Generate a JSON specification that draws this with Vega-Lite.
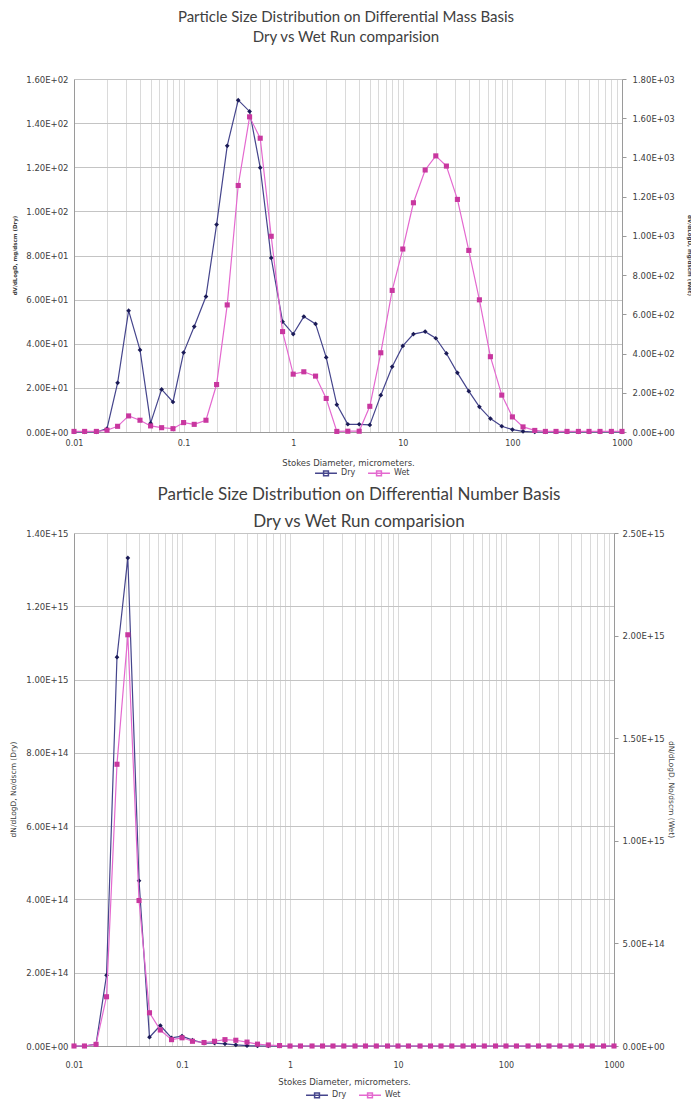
{
  "$schema": "https://vega.github.io/schema/vega-lite/v6.json",
  "background": "white",
  "padding": {"left": 9, "top": 10, "right": 0, "bottom": 0},
  "spacing": 7,
  "config": {
    "font": "Lato",
    "view": {"stroke": null},
    "axis": {
      "labelFont": "DejaVu Sans",
      "labelColor": "#404040",
      "titleColor": "#404040",
      "titleFont": "DejaVu Sans",
      "titleFontWeight": "normal",
      "domainColor": "#9a9a9a",
      "tickColor": "#9a9a9a",
      "gridColor": "#c4c4c4"
    },
    "title": {"color": "#404040", "font": "Lato", "fontWeight": "normal", "frame": "group"},
    "legend": {
      "orient": "none",
      "direction": "horizontal",
      "labelFont": "DejaVu Sans",
      "labelFontSize": 8,
      "labelColor": "#404040",
      "symbolType": "M-1,0H1M-0.22,-0.22H0.22V0.22H-0.22Z",
      "symbolSize": 480,
      "symbolStrokeWidth": 1.5,
      "columnPadding": 9,
      "labelOffset": 3,
      "padding": 0
    }
  },
  "datasets": {
    "mass": [
      {"d": 0.01, "Dry": 0, "Wet": 3},
      {"d": 0.0125, "Dry": 0, "Wet": 3},
      {"d": 0.016, "Dry": 0, "Wet": 3},
      {"d": 0.02, "Dry": 1.5, "Wet": 9},
      {"d": 0.025, "Dry": 22.3, "Wet": 29},
      {"d": 0.0315, "Dry": 55, "Wet": 82},
      {"d": 0.04, "Dry": 37.2, "Wet": 60},
      {"d": 0.05, "Dry": 4, "Wet": 31},
      {"d": 0.063, "Dry": 19.3, "Wet": 22},
      {"d": 0.08, "Dry": 13.6, "Wet": 17},
      {"d": 0.1, "Dry": 36, "Wet": 48},
      {"d": 0.125, "Dry": 47.8, "Wet": 39},
      {"d": 0.16, "Dry": 61.4, "Wet": 60},
      {"d": 0.2, "Dry": 94, "Wet": 242},
      {"d": 0.25, "Dry": 129.7, "Wet": 648},
      {"d": 0.315, "Dry": 150.4, "Wet": 1257},
      {"d": 0.4, "Dry": 145.3, "Wet": 1607},
      {"d": 0.5, "Dry": 119.8, "Wet": 1498},
      {"d": 0.63, "Dry": 78.9, "Wet": 998},
      {"d": 0.8, "Dry": 50, "Wet": 512},
      {"d": 1, "Dry": 44.4, "Wet": 295},
      {"d": 1.25, "Dry": 52.3, "Wet": 307},
      {"d": 1.6, "Dry": 49, "Wet": 285},
      {"d": 2, "Dry": 33.8, "Wet": 171},
      {"d": 2.5, "Dry": 12.4, "Wet": 3},
      {"d": 3.15, "Dry": 3.5, "Wet": 4},
      {"d": 4, "Dry": 3.5, "Wet": 4},
      {"d": 5, "Dry": 3.2, "Wet": 131},
      {"d": 6.3, "Dry": 16.7, "Wet": 404},
      {"d": 8, "Dry": 29.6, "Wet": 722},
      {"d": 10, "Dry": 39, "Wet": 933},
      {"d": 12.5, "Dry": 44.4, "Wet": 1169},
      {"d": 16, "Dry": 45.5, "Wet": 1336},
      {"d": 20, "Dry": 42.5, "Wet": 1408},
      {"d": 25, "Dry": 35.6, "Wet": 1356},
      {"d": 31.5, "Dry": 26.8, "Wet": 1186},
      {"d": 40, "Dry": 18.5, "Wet": 926},
      {"d": 50, "Dry": 11.4, "Wet": 674},
      {"d": 63, "Dry": 6.1, "Wet": 384},
      {"d": 80, "Dry": 2.6, "Wet": 188},
      {"d": 100, "Dry": 1.1, "Wet": 77},
      {"d": 125, "Dry": 0.3, "Wet": 26},
      {"d": 160, "Dry": 0, "Wet": 8},
      {"d": 200, "Dry": 0, "Wet": 3},
      {"d": 250, "Dry": 0, "Wet": 3},
      {"d": 315, "Dry": 0, "Wet": 3},
      {"d": 400, "Dry": 0, "Wet": 3},
      {"d": 500, "Dry": 0, "Wet": 3},
      {"d": 630, "Dry": 0, "Wet": 3},
      {"d": 800, "Dry": 0, "Wet": 3},
      {"d": 1000, "Dry": 0, "Wet": 3}
    ],
    "number": [
      {"d": 0.01, "Dry": 0, "Wet": 0},
      {"d": 0.0125, "Dry": 0, "Wet": 0},
      {"d": 0.016, "Dry": 5e12, "Wet": 8e12},
      {"d": 0.02, "Dry": 1.93e14, "Wet": 2.4e14},
      {"d": 0.025, "Dry": 1.061e15, "Wet": 1.373e15},
      {"d": 0.0315, "Dry": 1.332e15, "Wet": 2.004e15},
      {"d": 0.04, "Dry": 4.51e14, "Wet": 7.09e14},
      {"d": 0.05, "Dry": 2.4e13, "Wet": 1.62e14},
      {"d": 0.063, "Dry": 5.6e13, "Wet": 7.8e13},
      {"d": 0.08, "Dry": 2.2e13, "Wet": 3.1e13},
      {"d": 0.1, "Dry": 2.7e13, "Wet": 4e13},
      {"d": 0.125, "Dry": 1.6e13, "Wet": 2.3e13},
      {"d": 0.16, "Dry": 8e12, "Wet": 1.7e13},
      {"d": 0.2, "Dry": 8e12, "Wet": 2.3e13},
      {"d": 0.25, "Dry": 6e12, "Wet": 3.1e13},
      {"d": 0.315, "Dry": 3e12, "Wet": 2.8e13},
      {"d": 0.4, "Dry": 1e12, "Wet": 1.9e13},
      {"d": 0.5, "Dry": 0, "Wet": 9e12},
      {"d": 0.63, "Dry": 0, "Wet": 5e12},
      {"d": 0.8, "Dry": 0, "Wet": 2e12},
      {"d": 1, "Dry": 0, "Wet": 0},
      {"d": 1.25, "Dry": 0, "Wet": 0},
      {"d": 1.6, "Dry": 0, "Wet": 0},
      {"d": 2, "Dry": 0, "Wet": 0},
      {"d": 2.5, "Dry": 0, "Wet": 0},
      {"d": 3.15, "Dry": 0, "Wet": 0},
      {"d": 4, "Dry": 0, "Wet": 0},
      {"d": 5, "Dry": 0, "Wet": 0},
      {"d": 6.3, "Dry": 0, "Wet": 0},
      {"d": 8, "Dry": 0, "Wet": 0},
      {"d": 10, "Dry": 0, "Wet": 0},
      {"d": 12.5, "Dry": 0, "Wet": 0},
      {"d": 16, "Dry": 0, "Wet": 0},
      {"d": 20, "Dry": 0, "Wet": 0},
      {"d": 25, "Dry": 0, "Wet": 0},
      {"d": 31.5, "Dry": 0, "Wet": 0},
      {"d": 40, "Dry": 0, "Wet": 0},
      {"d": 50, "Dry": 0, "Wet": 0},
      {"d": 63, "Dry": 0, "Wet": 0},
      {"d": 80, "Dry": 0, "Wet": 0},
      {"d": 100, "Dry": 0, "Wet": 0},
      {"d": 125, "Dry": 0, "Wet": 0},
      {"d": 160, "Dry": 0, "Wet": 0},
      {"d": 200, "Dry": 0, "Wet": 0},
      {"d": 250, "Dry": 0, "Wet": 0},
      {"d": 315, "Dry": 0, "Wet": 0},
      {"d": 400, "Dry": 0, "Wet": 0},
      {"d": 500, "Dry": 0, "Wet": 0},
      {"d": 630, "Dry": 0, "Wet": 0},
      {"d": 800, "Dry": 0, "Wet": 0},
      {"d": 1000, "Dry": 0, "Wet": 0}
    ]
  },
  "resolve": {"scale": {"color": "independent"}, "legend": {"color": "independent"}},
  "vconcat": [
    {
      "width": 548,
      "height": 353,
      "title": {
        "text": ["Particle Size Distribution on Differential Mass Basis", "Dry vs Wet Run comparision"],
        "fontSize": 15,
        "lineHeight": 20,
        "offset": 30,
        "dx": -2
      },
      "data": {"name": "mass"},
      "encoding": {
        "x": {
          "field": "d",
          "type": "quantitative",
          "scale": {"type": "log", "domain": [0.01, 1000], "nice": false},
          "axis": {
            "title": "Stokes Diameter, micrometers.",
            "titleFontSize": 8.5,
            "titlePadding": 11,
            "labelFontSize": 8,
            "labelPadding": 7,
            "labelFlush": false,
            "ticks": false,
            "labelOverlap": false,
            "labelBound": false,
            "gridColor": "#dadada",
            "values": [0.01,0.02,0.03,0.04,0.05,0.06,0.07,0.08,0.09,0.1,0.2,0.3,0.4,0.5,0.6,0.7,0.8,0.9,1,2,3,4,5,6,7,8,9,10,20,30,40,50,60,70,80,90,100,200,300,400,500,600,700,800,900,1000],
            "labelExpr": "indexof([0.01,0.1,1,10,100,1000], datum.value) >= 0 ? format(datum.value, '~g') : ''"
          }
        }
      },
      "layer": [
        {
          "encoding": {
            "y": {
              "field": "Dry",
              "type": "quantitative",
              "scale": {"domain": [0, 160], "nice": false},
              "axis": {
                "orient": "left",
                "title": "dV/dLogD, mg/dscm (Dry)",
                "titleFontSize": 5.5,
                "titleFontWeight": "bold",
                "titleX": -57,
                "titleY": 176,
                "labelFontSize": 8.5,
                "labelPadding": 6,
                "ticks": false,
                "values": [0, 20, 40, 60, 80, 100, 120, 140, 160],
                "labelExpr": "replace(replace(format(datum.value,'.2e'),regexp('e[+]([0-9])$'),'E+0$1'),'e+','E+')"
              }
            }
          },
          "layer": [
            {
              "mark": {"type": "line", "strokeWidth": 1.2},
              "encoding": {
                "color": {
                  "datum": "Dry",
                  "type": "nominal",
                  "scale": {"domain": ["Dry", "Wet"], "range": ["#45458c", "#e468cf"]},
                  "legend": {"title": null, "legendX": 240, "legendY": 382}
                }
              }
            },
            {
              "mark": {"type": "point", "shape": "diamond", "size": 22, "filled": true, "opacity": 1, "color": "#1b1b57"},
              "encoding": {}
            }
          ]
        },
        {
          "encoding": {
            "y": {
              "field": "Wet",
              "type": "quantitative",
              "scale": {"domain": [0, 1800], "nice": false},
              "axis": {
                "orient": "right",
                "title": "dV/dLogD, mg/dscm (Wet)",
                "titleFontSize": 5.5,
                "titleFontWeight": "bold",
                "titleX": 64,
                "titleY": 176,
                "labelFontSize": 8.5,
                "labelPadding": 6,
                "grid": false,
                "tickSize": 4,
                "values": [0, 200, 400, 600, 800, 1000, 1200, 1400, 1600, 1800],
                "labelExpr": "replace(replace(format(datum.value,'.2e'),regexp('e[+]([0-9])$'),'E+0$1'),'e+','E+')"
              }
            }
          },
          "layer": [
            {
              "mark": {"type": "line", "strokeWidth": 1.2},
              "encoding": {
                "color": {
                  "datum": "Wet",
                  "type": "nominal",
                  "scale": {"domain": ["Dry", "Wet"], "range": ["#45458c", "#e468cf"]},
                  "legend": {"title": null, "legendX": 240, "legendY": 382}
                }
              }
            },
            {
              "mark": {"type": "point", "shape": "square", "size": 26, "filled": true, "opacity": 1, "color": "#c8379f"},
              "encoding": {}
            }
          ]
        }
      ],
      "resolve": {"scale": {"y": "independent"}, "axis": {"y": "independent"}}
    },
    {
      "width": 540,
      "height": 513,
      "title": {
        "text": ["Particle Size Distribution on Differential Number Basis", "Dry vs Wet Run comparision"],
        "fontSize": 17,
        "lineHeight": 27,
        "offset": -2,
        "dx": 15
      },
      "data": {"name": "number"},
      "encoding": {
        "x": {
          "field": "d",
          "type": "quantitative",
          "scale": {"type": "log", "domain": [0.01, 1000], "nice": false},
          "axis": {
            "title": "Stokes Diameter, micrometers.",
            "titleFontSize": 8.5,
            "titlePadding": 8,
            "labelFontSize": 8,
            "labelPadding": 15,
            "labelFlush": false,
            "ticks": false,
            "labelOverlap": false,
            "labelBound": false,
            "gridColor": "#dadada",
            "values": [0.01,0.02,0.03,0.04,0.05,0.06,0.07,0.08,0.09,0.1,0.2,0.3,0.4,0.5,0.6,0.7,0.8,0.9,1,2,3,4,5,6,7,8,9,10,20,30,40,50,60,70,80,90,100,200,300,400,500,600,700,800,900,1000],
            "labelExpr": "indexof([0.01,0.1,1,10,100,1000], datum.value) >= 0 ? format(datum.value, '~g') : ''"
          }
        }
      },
      "layer": [
        {
          "encoding": {
            "y": {
              "field": "Dry",
              "type": "quantitative",
              "scale": {"domain": [0, 1.4e15], "nice": false},
              "axis": {
                "orient": "left",
                "title": "dN/dLogD, No/dscm (Dry)",
                "titleFontSize": 7.5,
                "titleX": -57,
                "titleY": 256,
                "labelFontSize": 8.5,
                "labelPadding": 6,
                "ticks": false,
                "values": [0, 2e14, 4e14, 6e14, 8e14, 1e15, 1.2e15, 1.4e15],
                "labelExpr": "replace(replace(format(datum.value,'.2e'),regexp('e[+]([0-9])$'),'E+0$1'),'e+','E+')"
              }
            }
          },
          "layer": [
            {
              "mark": {"type": "line", "strokeWidth": 1.2},
              "encoding": {
                "color": {
                  "datum": "Dry",
                  "type": "nominal",
                  "scale": {"domain": ["Dry", "Wet"], "range": ["#45458c", "#e468cf"]},
                  "legend": {"title": null, "legendX": 231, "legendY": 550}
                }
              }
            },
            {
              "mark": {"type": "point", "shape": "diamond", "size": 22, "filled": true, "opacity": 1, "color": "#1b1b57"},
              "encoding": {}
            }
          ]
        },
        {
          "encoding": {
            "y": {
              "field": "Wet",
              "type": "quantitative",
              "scale": {"domain": [0, 2.5e15], "nice": false},
              "axis": {
                "orient": "right",
                "title": "dN/dLogD, No/dscm (Wet)",
                "titleFontSize": 7.5,
                "titleX": 52,
                "titleY": 256,
                "labelFontSize": 8.5,
                "labelPadding": 4,
                "grid": false,
                "tickSize": 4,
                "values": [0, 5e14, 1e15, 1.5e15, 2e15, 2.5e15],
                "labelExpr": "replace(replace(format(datum.value,'.2e'),regexp('e[+]([0-9])$'),'E+0$1'),'e+','E+')"
              }
            }
          },
          "layer": [
            {
              "mark": {"type": "line", "strokeWidth": 1.2},
              "encoding": {
                "color": {
                  "datum": "Wet",
                  "type": "nominal",
                  "scale": {"domain": ["Dry", "Wet"], "range": ["#45458c", "#e468cf"]},
                  "legend": {"title": null, "legendX": 231, "legendY": 550}
                }
              }
            },
            {
              "mark": {"type": "point", "shape": "square", "size": 26, "filled": true, "opacity": 1, "color": "#c8379f"},
              "encoding": {}
            }
          ]
        }
      ],
      "resolve": {"scale": {"y": "independent"}, "axis": {"y": "independent"}}
    }
  ]
}
